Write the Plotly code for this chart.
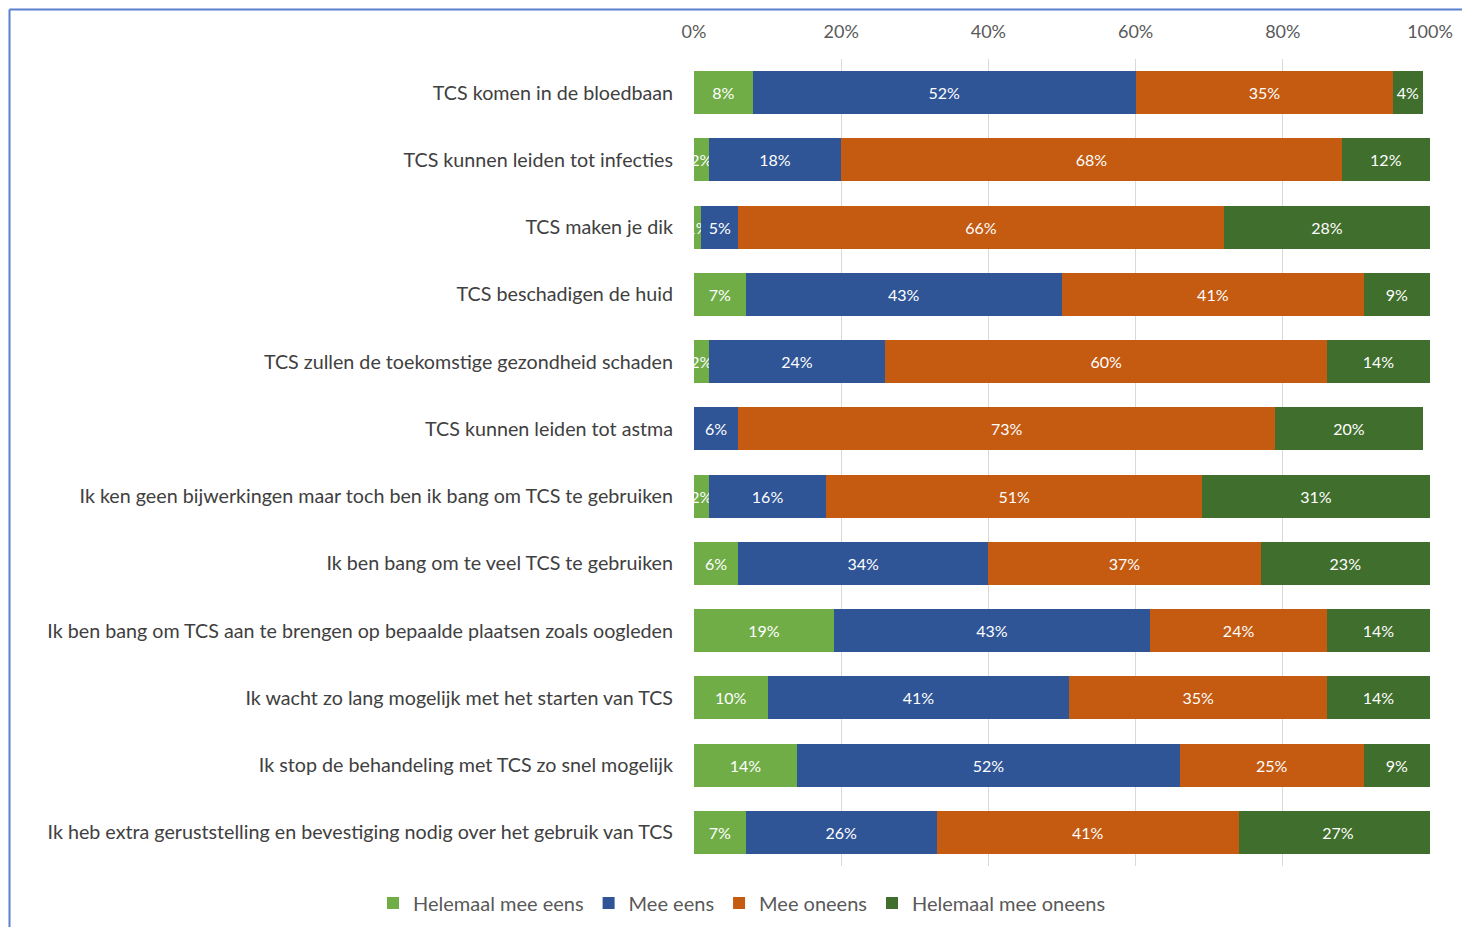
import plotly.graph_objects as go

categories = [
    "TCS komen in de bloedbaan",
    "TCS kunnen leiden tot infecties",
    "TCS maken je dik",
    "TCS beschadigen de huid",
    "TCS zullen de toekomstige gezondheid schaden",
    "TCS kunnen leiden tot astma",
    "Ik ken geen bijwerkingen maar toch ben ik bang om TCS te gebruiken",
    "Ik ben bang om te veel TCS te gebruiken",
    "Ik ben bang om TCS aan te brengen op bepaalde plaatsen zoals oogleden",
    "Ik wacht zo lang mogelijk met het starten van TCS",
    "Ik stop de behandeling met TCS zo snel mogelijk",
    "Ik heb extra geruststelling en bevestiging nodig over het gebruik van TCS",
]

helemaal_mee_eens = [8, 2, 1, 7, 2, 0, 2, 6, 19, 10, 14, 7]
mee_eens = [52, 18, 5, 43, 24, 6, 16, 34, 43, 41, 52, 26]
mee_oneens = [35, 68, 66, 41, 60, 73, 51, 37, 24, 35, 25, 41]
helemaal_mee_oneens = [4, 12, 28, 9, 14, 20, 31, 23, 14, 14, 9, 27]

series = [
    ("Helemaal mee eens", helemaal_mee_eens, "#70AD47"),
    ("Mee eens", mee_eens, "#2F5597"),
    ("Mee oneens", mee_oneens, "#C55A11"),
    ("Helemaal mee oneens", helemaal_mee_oneens, "#406E2C"),
]

tick_vals = [0, 20, 40, 60, 80, 100]
tick_text = ["0%", "20%", "40%", "60%", "80%", "100%"]

FONT = "Lato"

fig = go.Figure()
for name, vals, color in series:
    fig.add_trace(go.Bar(
        y=categories, x=vals, name=name, orientation="h",
        marker=dict(color=color, line=dict(width=0)),
        text=[f"{v}%" for v in vals],
        textposition="inside", insidetextanchor="middle", textangle=0,
        textfont=dict(color="white", size=16, family=FONT),
        cliponaxis=True,
    ))

# page renders the figure offset by the 8px body margin
OFF = 8
W, H = 1470 - OFF, 927 - OFF
L = 694 - OFF
R = W - (1430 - OFF)
T = 59 - OFF
B = H - (866 - OFF)
pw = W - L - R
ph = H - T - B

fig.update_layout(
    barmode="stack",
    bargap=0.36,
    width=W, height=H,
    margin=dict(l=L, r=R, t=T, b=B, autoexpand=False),
    paper_bgcolor="white", plot_bgcolor="white",
    font=dict(family=FONT, color="#404040"),
    uniformtext=dict(minsize=16, mode="show"),
    xaxis=dict(
        side="top", range=[0, 100], tickvals=tick_vals, ticktext=tick_text,
        showgrid=True, gridcolor="#D9D9D9", gridwidth=1, zeroline=False,
        tickfont=dict(size=18, color="#595959", family=FONT),
        ticklabelstandoff=16, showline=False, fixedrange=True,
    ),
    yaxis=dict(
        categoryorder="array", categoryarray=categories[::-1],
        tickfont=dict(size=19.7, color="#404040", family=FONT),
        ticklabelstandoff=20, showgrid=False, showline=False,
    ),
    legend=dict(
        orientation="h", x=(742 - 694) / pw, xanchor="center",
        y=-(903 - 866) / ph, yanchor="middle",
        font=dict(size=20, color="#595959", family=FONT),
        traceorder="normal", itemwidth=30,
    ),
    showlegend=True,
)

# Frame border (left and top edges visible); fig-pixel 1.5 from the figure's edge
bx = (1.5 - L) / pw
by = 1 + (T - 1.5) / ph
fig.add_shape(type="line", xref="paper", yref="paper", x0=bx, x1=bx, y0=-0.2, y1=by,
              line=dict(color="#5B80D0", width=2))
fig.add_shape(type="line", xref="paper", yref="paper", x0=bx, x1=1.2, y0=by, y1=by,
              line=dict(color="#5B80D0", width=2))

fig.write_html("out.html")
